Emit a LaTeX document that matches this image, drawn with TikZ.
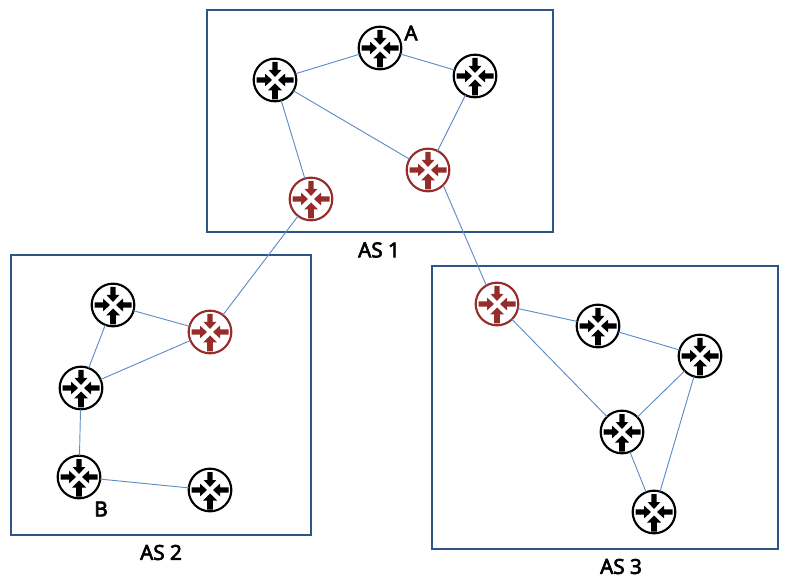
\documentclass[tikz,border=0pt]{standalone}
\usepackage{fontspec}
\setmainfont[FakeBold=3]{Noto Sans}
\definecolor{boxblue}{HTML}{2F5586}
\definecolor{linkblue}{HTML}{5F8CC6}
\definecolor{borderred}{HTML}{962D2A}
\newcommand{\routerglyph}[1]{%
  \begin{scope}[shift={(path picture bounding box.center)},fill=#1,draw=none]
    % from top
    \fill (-2.6,-18) -- (2.6,-18) -- (2.6,-10) -- (6.4,-10) -- (0,-3) -- (-6.4,-10) -- (-2.6,-10) -- cycle;
    % from bottom
    \fill (-2.8,19.5) -- (2.8,19.5) -- (2.8,10.5) -- (7,10.5) -- (0,3.5) -- (-7,10.5) -- (-2.8,10.5) -- cycle;
    % from left
    \fill (-18.5,-2.6) -- (-10,-2.6) -- (-10,-6.4) -- (-3,0) -- (-10,6.4) -- (-10,2.6) -- (-18.5,2.6) -- cycle;
    % from right
    \fill (18.5,-2.6) -- (10,-2.6) -- (10,-6.4) -- (3,0) -- (10,6.4) -- (10,2.6) -- (18.5,2.6) -- cycle;
  \end{scope}}
\tikzset{
  x=0.75pt,y=-0.75pt,
  asbox/.style={draw=boxblue,line width=1.5pt,fill=none,inner sep=0pt,outer sep=0pt,anchor=north west},
  router/.style={circle,draw=black,fill=white,line width=1.6pt,minimum size=32pt,inner sep=0pt,outer sep=0pt,path picture={\routerglyph{black}}},
  borderrouter/.style={circle,draw=borderred,fill=white,line width=1.6pt,minimum size=32pt,inner sep=0pt,outer sep=0pt,path picture={\routerglyph{borderred}}},
  link/.style={draw=linkblue,line width=0.7pt},
  lbl/.style={font=\fontsize{15.5}{16}\selectfont,text=black,inner sep=0pt},
}
\begin{document}
\begin{tikzpicture}
\useasboundingbox (0,0) rectangle (788,580);
\node[asbox,minimum width=259.5pt,minimum height=166.5pt] (as1) at (207,10) {};
\node[asbox,minimum width=225pt,minimum height=210pt] (as2) at (11,255) {};
\node[asbox,minimum width=259.5pt,minimum height=212.25pt] (as3) at (432,266) {};
\node[lbl] (las1) at (379,250) {AS 1};
\node[lbl] (las2) at (161,552.5) {AS 2};
\node[lbl] (las3) at (621,566.5) {AS 3};
\node[lbl] (la) at (411,33) {A};
\node[lbl] (lb) at (101,509) {B};
\node[router] (a1) at (380,48) {};
\node[router] (a2) at (275,80) {};
\node[router] (a3) at (475,76) {};
\node[borderrouter] (a4) at (428,170) {};
\node[borderrouter] (a5) at (311,199) {};
\node[router] (b1) at (113,305) {};
\node[borderrouter] (b2) at (210,332) {};
\node[router] (b3) at (81,388) {};
\node[router] (b4) at (79,477) {};
\node[router] (b5) at (210,490) {};
\node[borderrouter] (c1) at (497,304) {};
\node[router] (c2) at (598,326) {};
\node[router] (c3) at (700,356) {};
\node[router] (c4) at (622,432) {};
\node[router] (c5) at (654,512) {};
\foreach \u/\v in {a2/a1,a1/a3,a2/a4,a3/a4,a2/a5,a5/b2,b1/b2,b1/b3,b3/b2,b3/b4,b4/b5,c1/c2,c2/c3,c1/c4,c3/c4,c3/c5,c4/c5}
  \draw[link] (\u) -- (\v);
\draw[link] (a4.-45) -- (c1.120);
\end{tikzpicture}
\end{document}
